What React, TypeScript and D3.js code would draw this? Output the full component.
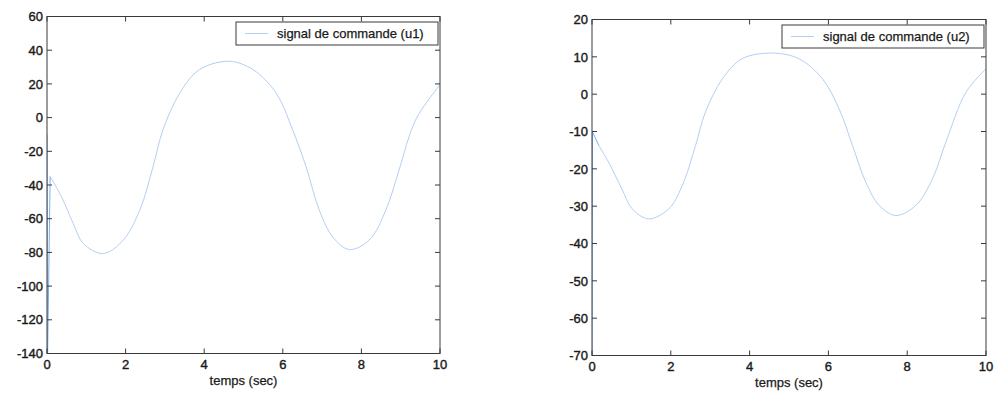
import React from "react";
import * as d3 from "d3";

// ---- Data ----
const timeU1 = [0, 0.01, 0.08, 0.37, 0.67, 0.92, 1.43, 1.94, 2.36, 2.7, 2.95, 3.38, 3.88, 4.64, 5.24, 5.83, 6.25, 6.59, 6.93, 7.27, 7.69, 8.2, 8.62, 8.96, 9.38, 10];
const valuesU1 = [-10, -150, -35, -47, -63, -74.6, -80.7, -72.7, -55, -29, -7.3, 14.6, 28.5, 33.4, 28.5, 14.6, -7.3, -29, -55, -70.8, -78.3, -72.7, -55, -31, -1.3, 19.5];

const timeU2 = [0, 0.01, 0.17, 0.42, 0.76, 1.02, 1.44, 1.95, 2.29, 2.63, 2.88, 3.31, 3.81, 4.58, 5.25, 5.85, 6.27, 6.61, 6.95, 7.29, 7.71, 8.22, 8.64, 8.98, 9.49, 10];
const valuesU2 = [-75, -10, -13.7, -18.2, -25.4, -30.7, -33.4, -30.7, -24.5, -13.7, -4.8, 4.1, 9.5, 11.0, 9.5, 4.1, -3.9, -13.7, -23.6, -29.8, -32.5, -29.8, -22.7, -12.9, 0.5, 6.8];

const xTicks = [0, 2, 4, 6, 8, 10];
const yTicksU1 = [-140, -120, -100, -80, -60, -40, -20, 0, 20, 40, 60];
const yTicksU2 = [-70, -60, -50, -40, -30, -20, -10, 0, 10, 20];

const legendU1 = "signal de commande (u1)";
const legendU2 = "signal de commande (u2)";
const xLabel = "temps (sec)";

const FONT = "'Liberation Sans', Arial, Helvetica, sans-serif";
const LINE_COLOR = "#b2cff1";
const SPIKE_COLOR = "#7aaeee";
const TEXT_COLOR = "#1a1a1a";
const FRAME_COLOR = "#3a3a3a";

type PanelProps = {
  id: string;
  x0: number; x1: number; y0: number; y1: number;
  times: number[]; values: number[];
  yDomain: [number, number];
  yTicks: number[];
  legend: string;
  spikeEnd: number; // index where the smooth part starts
};

function Panel({ id, x0, x1, y0, y1, times, values, yDomain, yTicks, legend, spikeEnd }: PanelProps) {
  const x = d3.scaleLinear().domain([0, 10]).range([x0, x1]);
  const y = d3.scaleLinear().domain(yDomain).range([y1, y0]);
  const pts: [number, number][] = times.map((t, i) => [t, values[i]]);
  const smooth = d3.line<[number, number]>()
    .x((d) => x(d[0]))
    .y((d) => y(d[1]))
    .curve(d3.curveCatmullRom.alpha(0.5));
  const lin = d3.line<[number, number]>()
    .x((d) => x(d[0]))
    .y((d) => y(d[1]));
  const tick = 5;
  const lgW = 202, lgH = 23;
  const lgX = x1 - 2 - lgW;
  const lgY = y0 + 5.5;
  const textProps = { fontFamily: FONT, fontSize: 13, fill: TEXT_COLOR, stroke: TEXT_COLOR, strokeWidth: 0.4 };
  return (
    <g>
      <defs>
        <clipPath id={id}>
          <rect x={x0} y={y0} width={x1 - x0} height={y1 - y0} />
        </clipPath>
      </defs>
      <g clipPath={`url(#${id})`} fill="none" strokeWidth={1}>
        <path d={smooth(pts.slice(spikeEnd)) || ""} stroke={LINE_COLOR} />
        <path d={lin(pts.slice(0, spikeEnd + 1)) || ""} stroke={SPIKE_COLOR} />
      </g>
      {/* frame */}
      <rect x={x0} y={y0} width={x1 - x0} height={y1 - y0} fill="none" stroke={FRAME_COLOR} strokeWidth={1} />
      {/* x ticks */}
      {xTicks.map((t) => (
        <g key={"x" + t}>
          <line x1={x(t)} x2={x(t)} y1={y1} y2={y1 - tick} stroke={FRAME_COLOR} />
          <line x1={x(t)} x2={x(t)} y1={y0} y2={y0 + tick} stroke={FRAME_COLOR} />
          <text x={x(t)} y={y1 + 15.5} textAnchor="middle" {...textProps}>{t}</text>
        </g>
      ))}
      {/* y ticks */}
      {yTicks.map((v) => (
        <g key={"y" + v}>
          <line x1={x0} x2={x0 + tick} y1={y(v)} y2={y(v)} stroke={FRAME_COLOR} />
          <line x1={x1} x2={x1 - tick} y1={y(v)} y2={y(v)} stroke={FRAME_COLOR} />
          <text x={x0 - 4} y={y(v)} dy="0.36em" textAnchor="end" {...textProps}>{v}</text>
        </g>
      ))}
      {/* x label */}
      <text x={(x0 + x1) / 2} y={y1 + 31.5} textAnchor="middle" {...textProps} strokeWidth={0.25}>{xLabel}</text>
      {/* legend */}
      <rect x={lgX} y={lgY} width={lgW} height={lgH} fill="#fff" stroke={FRAME_COLOR} strokeWidth={1} />
      <line x1={lgX + 9} x2={lgX + 32} y1={lgY + lgH / 2} y2={lgY + lgH / 2} stroke={LINE_COLOR} />
      <text x={lgX + 41} y={lgY + lgH / 2} dy="0.36em" {...textProps} strokeWidth={0.25}>{legend}</text>
    </g>
  );
}

export default function App() {
  return (
    <svg width={995} height={396} style={{ position: "absolute", left: 0, top: 0, background: "#fff" }}>
      <rect x={0} y={0} width={995} height={396} fill="#fff" />
      <Panel id="clipU1" x0={47} x1={440} y0={16.5} y1={353.5} times={timeU1} values={valuesU1}
        yDomain={[-140, 60]} yTicks={yTicksU1} legend={legendU1} spikeEnd={2} />
      <Panel id="clipU2" x0={592} x1={986} y0={19.5} y1={355.5} times={timeU2} values={valuesU2}
        yDomain={[-70, 20]} yTicks={yTicksU2} legend={legendU2} spikeEnd={2} />
    </svg>
  );
}
